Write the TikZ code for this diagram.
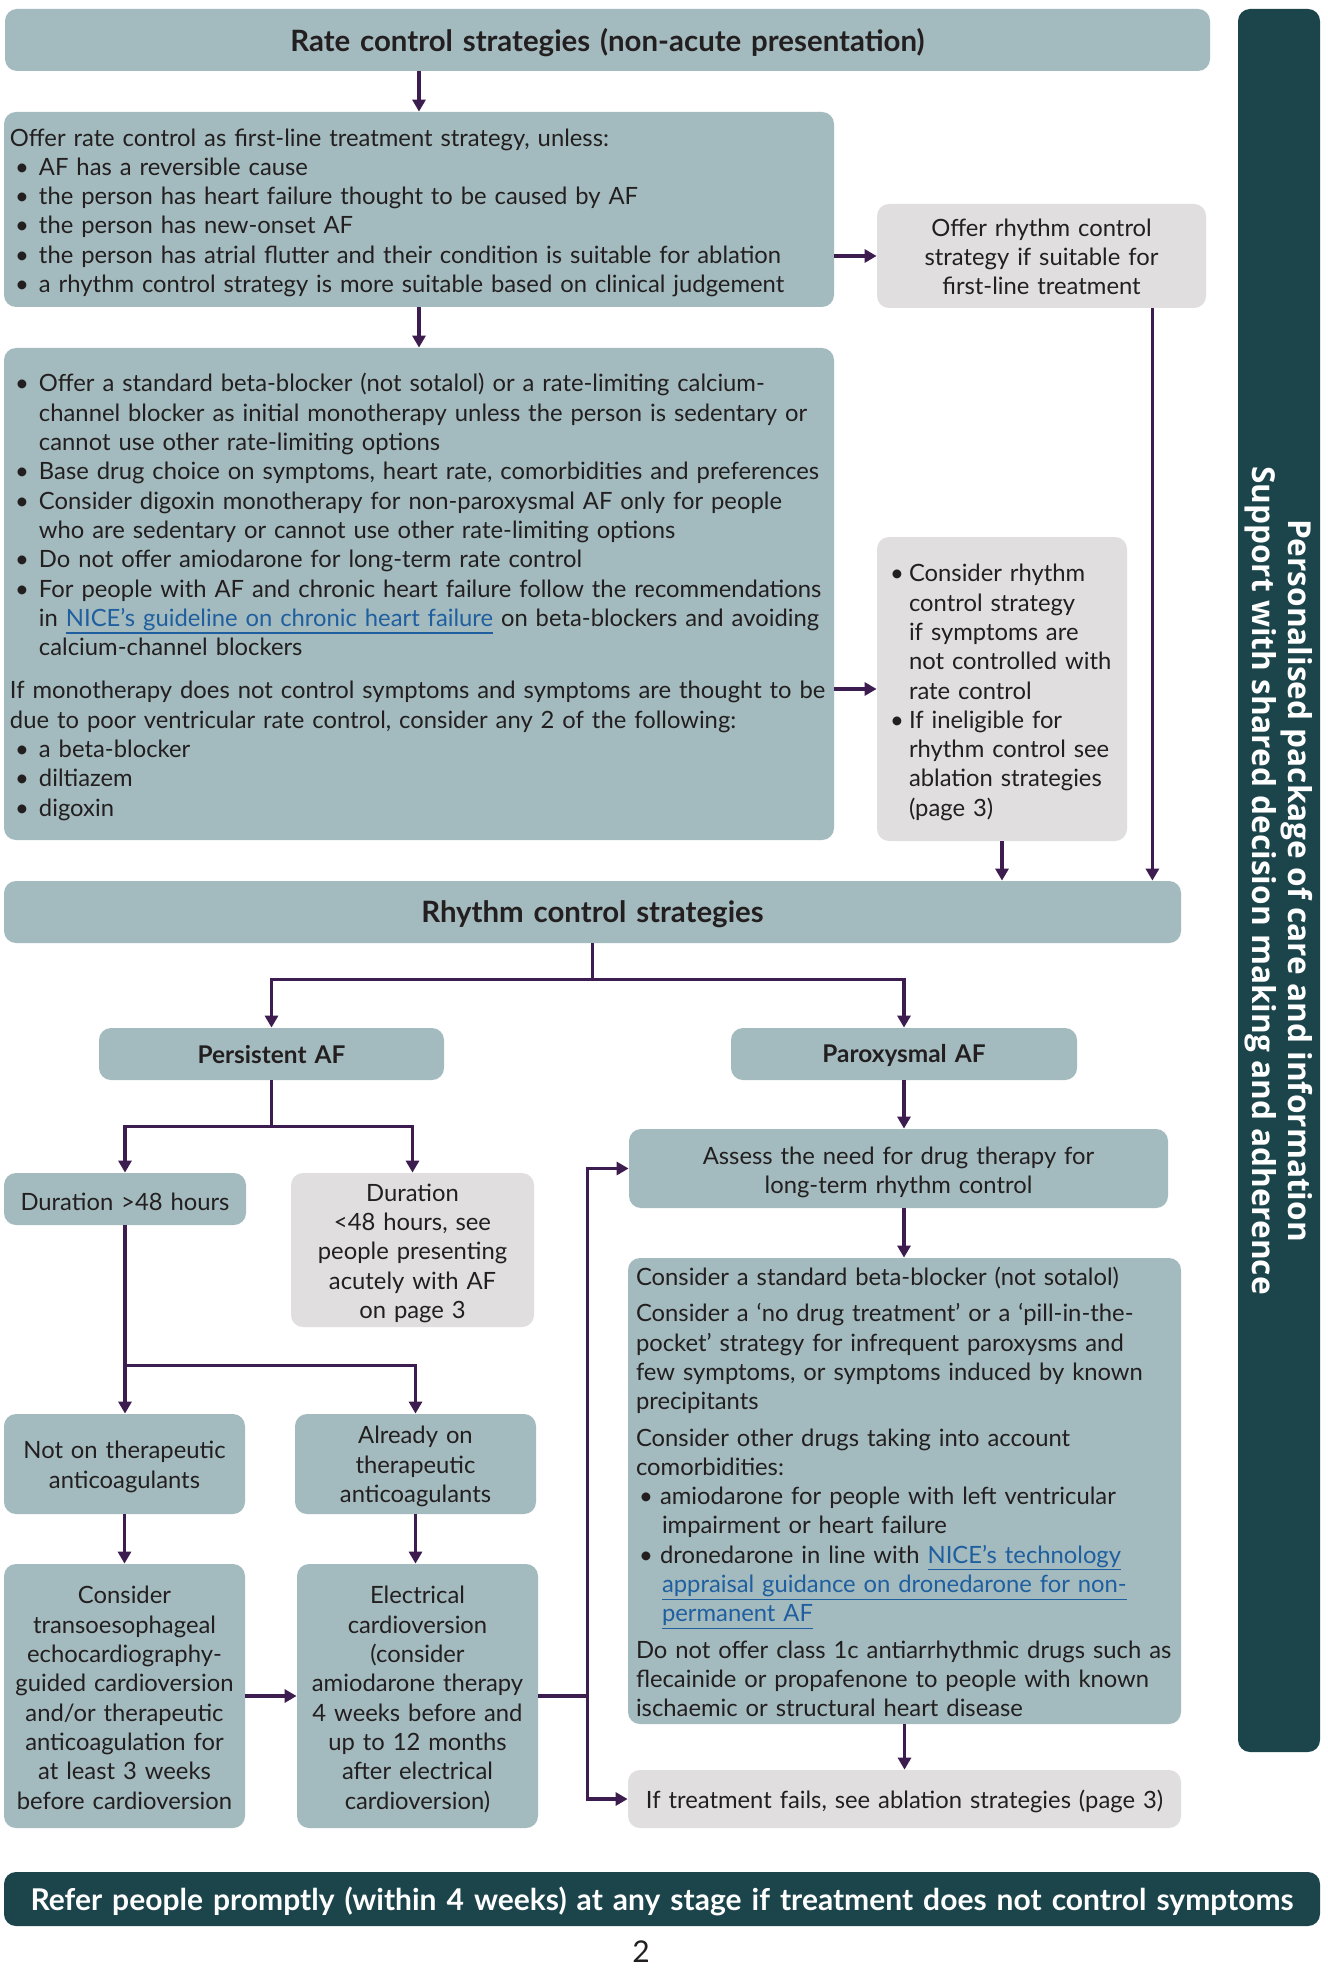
\documentclass[tikz,border=0pt]{standalone}
\usepackage{fontspec}
\setmainfont{Lato}
\newfontfamily\sidefont{Open Sans}
\usetikzlibrary{arrows.meta,calc}
\definecolor{boxfill}{HTML}{A3BBBE}
\definecolor{grayfill}{HTML}{E0DEDF}
\definecolor{darkteal}{HTML}{1B444B}
\definecolor{arrowcol}{HTML}{3D1D4F}
\definecolor{txt}{HTML}{231F20}
\definecolor{linkblue}{HTML}{1F5FA0}
\newcommand{\lnk}[1]{\textcolor{linkblue}{\setbox0\hbox{#1}\rlap{\rule[-3.6pt]{\wd0}{0.6pt}}\box0}}
\newcommand{\bl}[1]{\hspace*{2.5pt}\makebox[#1][l]{\textbullet}}
\newcommand{\ct}[1]{\hspace*{#1}}
\newcommand{\bodyf}{\fontsize{11.9pt}{14.65pt}\selectfont}
\newcommand{\headf}{\fontsize{14.7pt}{17pt}\selectfont\bfseries}
\newcommand{\subf}{\fontsize{12.2pt}{14pt}\selectfont\bfseries}
\tikzset{
  tbox/.style={fill=boxfill, rounded corners=6pt, text=txt, inner xsep=3pt, inner ysep=0pt, font=\bodyf, tdown=0pt},
  gbox/.style={tbox, fill=grayfill},
  dbox/.style={fill=darkteal, rounded corners=6pt, text=white, inner sep=0pt},
  tdown/.style={execute at end node={\par\kern-#1\kern-#1}},
  arr/.style={draw=arrowcol, line width=1.6pt, -{Triangle[length=6pt,width=6.5pt]}},
  ln/.style={draw=arrowcol, line width=1.6pt},
}
\begin{document}
\begin{tikzpicture}[x=0.5pt,y=-0.5pt]
\useasboundingbox[fill=white] (0,0) rectangle (1327,1973);

\node[tbox, minimum width=602.5pt, minimum height=31pt, text width=596pt, align=center, font=\headf, tdown=1.3pt] (h1) at (607.5,40) {Rate control strategies (non-acute presentation)};

\node[tbox, minimum width=415pt, minimum height=97.5pt, text width=409pt, align=left, tdown=1.6pt] (A) at (419,209.5) {%
Offer rate control as first-line treatment strategy, unless:\\
\bl{12pt}AF has a reversible cause\\
\bl{12pt}the person has heart failure thought to be caused by AF\\
\bl{12pt}the person has new-onset AF\\
\bl{12pt}the person has atrial flutter and their condition is suitable for ablation\\
\bl{12pt}a rhythm control strategy is more suitable based on clinical judgement};

\node[gbox, minimum width=164.5pt, minimum height=52pt, text width=158.5pt, align=center, tdown=0.5pt] (B) at (1041.5,256) {Offer rhythm control\\strategy if suitable for\\first-line treatment};

\node[tbox, minimum width=415pt, minimum height=246pt, text width=409pt, align=left, tdown=1.5pt] (C) at (419,594) {%
\bl{12pt}Offer a standard beta-blocker (not sotalol) or a rate-limiting calcium-\\
\ct{14.5pt}channel blocker as initial monotherapy unless the person is sedentary or\\
\ct{14.5pt}cannot use other rate-limiting options\\
\bl{12pt}Base drug choice on symptoms, heart rate, comorbidities and preferences\\
\bl{12pt}Consider digoxin monotherapy for non-paroxysmal AF only for people\\
\ct{14.5pt}who are sedentary or cannot use other rate-limiting options\\
\bl{12pt}Do not offer amiodarone for long-term rate control\\
\bl{12pt}For people with AF and chronic heart failure follow the recommendations\\
\ct{14.5pt}in \lnk{NICE’s guideline on chronic heart failure} on beta-blockers and avoiding\\
\ct{14.5pt}calcium-channel blockers\\[7pt]
If monotherapy does not control symptoms and symptoms are thought to be\\
due to poor ventricular rate control, consider any 2 of the following:\\
\bl{12pt}a beta-blocker\\
\bl{12pt}diltiazem\\
\bl{12pt}digoxin};

\node[gbox, minimum width=125pt, minimum height=152pt, inner xsep=4pt, text width=117pt, align=left, tdown=1.75pt] (D) at (1002,689) {%
\bl{9.5pt}Consider rhythm\\
\ct{12pt}control strategy\\
\ct{12pt}if symptoms are\\
\ct{12pt}not controlled with\\
\ct{12pt}rate control\\
\bl{9.5pt}If ineligible for\\
\ct{12pt}rhythm control see\\
\ct{12pt}ablation strategies\\
\ct{12pt}(page 3)};

\node[tbox, minimum width=588.5pt, minimum height=31pt, text width=582pt, align=center, font=\headf, tdown=1.9pt] (h2) at (592.5,912) {Rhythm control strategies};

\node[tbox, minimum width=172.5pt, minimum height=26pt, text width=166pt, align=center, font=\subf, tdown=0.7pt] (pers) at (271.5,1054) {Persistent AF};
\node[tbox, minimum width=173pt, minimum height=26pt, text width=166pt, align=center, font=\subf, tdown=0.7pt] (parox) at (904,1054) {Paroxysmal AF};

\node[tbox, minimum width=121pt, minimum height=26pt, text width=115pt, align=center, tdown=1.3pt] (d48) at (125,1199) {\raisebox{-1.2pt}[\height][\depth]{Duration >48 hours}};
\node[gbox, minimum width=121.5pt, minimum height=77pt, text width=115.5pt, align=center, tdown=1.6pt] (dl48) at (412.5,1250) {Duration\\<48 hours, see\\people presenting\\acutely with AF\\on page 3};

\node[tbox, minimum width=120.5pt, minimum height=50pt, text width=114.5pt, align=center, tdown=1.4pt] (noton) at (124.5,1464) {Not on therapeutic\\anticoagulants};
\node[tbox, minimum width=120.5pt, minimum height=50pt, text width=114.5pt, align=center, tdown=1.3pt] (already) at (415.5,1464) {Already on\\therapeutic\\anticoagulants};

\node[tbox, minimum width=120.5pt, minimum height=132pt, text width=119pt, inner xsep=0.75pt, align=center, tdown=0.9pt] (tee) at (124.5,1696) {Consider\\transoesophageal\\echocardiography-\\guided cardioversion\\and/or therapeutic\\anticoagulation for\\at least 3 weeks\\before cardioversion};
\node[tbox, minimum width=120.5pt, minimum height=132pt, text width=119pt, inner xsep=0.75pt, align=center, tdown=1.75pt] (ecv) at (417.5,1696) {Electrical\\cardioversion\\(consider\\amiodarone therapy\\4 weeks before and\\up to 12 months\\after electrical\\cardioversion)};

\node[tbox, minimum width=269.5pt, minimum height=39.5pt, text width=263.5pt, align=center, tdown=1.9pt] (assess) at (898.5,1168.5) {Assess the need for drug therapy for\\long-term rhythm control};

\node[tbox, minimum width=276.5pt, minimum height=233pt, inner xsep=4pt, text width=268.5pt, align=left, tdown=0.5pt] (cons) at (904.5,1491) {%
Consider a standard beta-blocker (not sotalol)\\[3.5pt]
Consider a ‘no drug treatment’ or a ‘pill-in-the-\\
pocket’ strategy for infrequent paroxysms and\\
few symptoms, or symptoms induced by known\\
precipitants\\[3.5pt]
Consider other drugs taking into account\\
comorbidities:\\
\hspace*{-1pt}\bl{10.5pt}amiodarone for people with left ventricular\\
\ct{13pt}impairment or heart failure\\
\hspace*{-1pt}\bl{10.5pt}dronedarone in line with \lnk{NICE’s technology}\\
\ct{13pt}\lnk{appraisal guidance on dronedarone for non-}\\
\ct{13pt}\lnk{permanent AF}\\[3.5pt]
Do not offer class 1c antiarrhythmic drugs such as\\
flecainide or propafenone to people with known\\
ischaemic or structural heart disease};

\node[gbox, minimum width=276.5pt, minimum height=29pt, text width=270.5pt, align=center, tdown=1.9pt] (fails) at (904.5,1799) {If treatment fails, see ablation strategies (page 3)};

\node[dbox, minimum width=658pt, minimum height=27pt, text width=652pt, align=center, tdown=1.9pt, font={\fontsize{15pt}{17pt}\selectfont\bfseries}] (refer) at (662,1899) {Refer people promptly (within 4 weeks) at any stage if treatment does not control symptoms};

\node[dbox, minimum width=41pt, minimum height=871.5pt] (side) at (1279,880.5) {};
\node[text=white, rotate=-90, align=center, inner sep=0pt, font={\sidefont\bfseries\fontsize{15.8pt}{18.2pt}\selectfont}] (sidetxt) at (side.center) {Personalised package of care and information\\Support with shared decision making and adherence};

\node[text=txt, font=\fontsize{15pt}{17pt}\selectfont] (pg) at (641,1952) {2};

% connectors
\draw[arr] (h1.south -| A.north) -- (A.north);
\draw[arr] (A.east |- B.center) -- (B.west);
\draw[arr] (A.south) -- (C.north);
\draw[arr] ([xshift=-27pt]B.south east) -- ([xshift=-27pt]B.south east |- h2.north);
\draw[arr] (C.east |- D.center) -- (D.west);
\draw[arr] (D.south) -- (D.south |- h2.north);

\coordinate (j1) at ($(h2.south)+(0,36)$);
\draw[ln] (h2.south) -- (j1);
\draw[arr] (j1) -| (pers.north);
\draw[arr] (j1) -| (parox.north);

\coordinate (j2) at ($(pers.south)+(0,46)$);
\draw[ln] (pers.south) -- (j2);
\draw[arr] (j2) -| (d48.north);
\draw[arr] (j2) -| (dl48.north);

\coordinate (j3) at ($(d48.south)+(0,140)$);
\draw[arr] (d48.south) -- (d48.south |- noton.north);
\draw[arr] (j3) -| (already.north);

\draw[arr] (noton.south) -- (noton.south |- tee.north);
\draw[arr] (already.south) -- (already.south |- ecv.north);
\draw[arr] (tee.east) -- (ecv.west);

\coordinate (j4) at ($(ecv.east)+(49,0)$);
\draw[ln] (ecv.east) -- (j4);
\draw[arr] (j4) |- (assess.west);
\draw[arr] (j4) |- (fails.west);

\draw[arr] (parox.south) -- (parox.south |- assess.north);
\draw[arr] (parox.south |- assess.south) -- (parox.south |- cons.north);
\draw[arr] (cons.south) -- (cons.south |- fails.north);
\end{tikzpicture}
\end{document}
